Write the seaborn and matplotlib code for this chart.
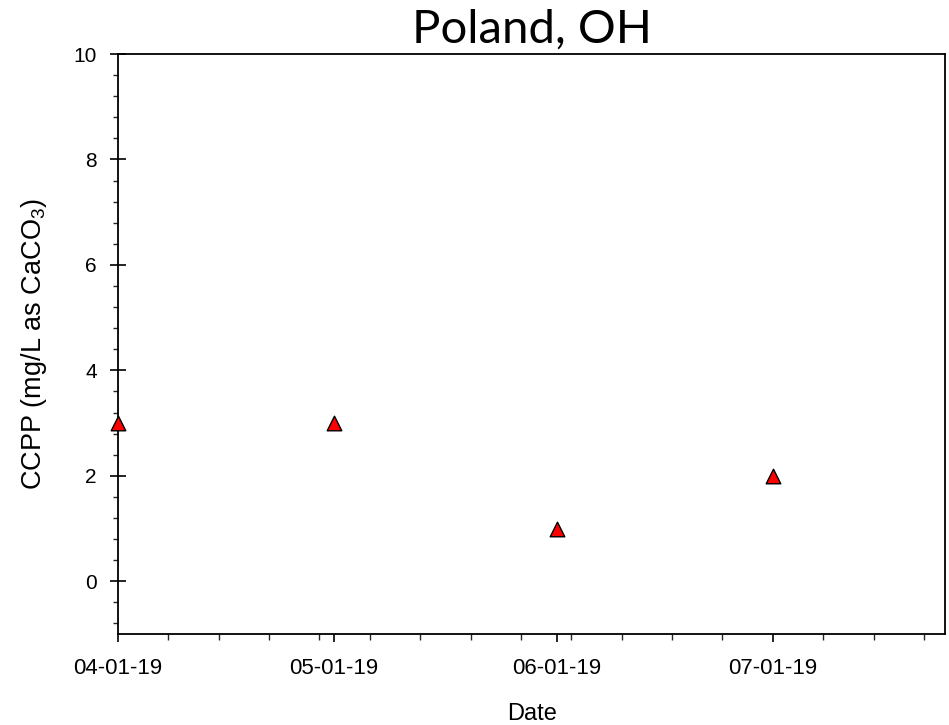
import numpy as np
import pandas as pd
import matplotlib
matplotlib.use("Agg")
import matplotlib.pyplot as plt
import matplotlib.dates as mdates
from matplotlib.ticker import MultipleLocator
import seaborn as sns

dates = ["2019-04-01", "2019-05-01", "2019-06-01", "2019-07-01"]
ccpp = [3.0, 3.0, 1.0, 2.0]
title = "Poland, OH"
xlabel = "Date"
ylabel = "CCPP (mg/L as CaCO$_3$)"

df = pd.DataFrame({"Date": pd.to_datetime(dates), "CCPP": ccpp})

sns.set_theme(style="white")
plt.rcParams["font.family"] = ["Liberation Sans", "DejaVu Sans"]
plt.rcParams["mathtext.fontset"] = "custom"
plt.rcParams["mathtext.rm"] = "Liberation Sans"
plt.rcParams["mathtext.it"] = "Liberation Sans"
plt.rcParams["mathtext.bf"] = "Liberation Sans"

fig = plt.figure(figsize=(9.49, 7.25), dpi=100)
ax = fig.add_axes([0.1243, 0.1255, 0.9963 - 0.1243, 0.9255 - 0.1255])

sns.scatterplot(data=df, x="Date", y="CCPP", ax=ax, marker="^", s=110,
                color="#ff0000", edgecolor="black", linewidth=1.0, zorder=5,
                clip_on=False, legend=False)

ax.set_xlim(pd.Timestamp("2019-04-01"), pd.Timestamp("2019-07-25"))
ax.set_ylim(-1, 10)

ax.xaxis.set_major_locator(mdates.MonthLocator())
ax.xaxis.set_major_formatter(mdates.DateFormatter("%m-%d-%y"))
ax.xaxis.set_minor_locator(mdates.WeekdayLocator(byweekday=mdates.MO))
ax.yaxis.set_major_locator(MultipleLocator(2))
ax.yaxis.set_minor_locator(MultipleLocator(0.4))

for side in ["left", "bottom", "top", "right"]:
    ax.spines[side].set_visible(True)
    ax.spines[side].set_color("black")
    ax.spines[side].set_linewidth(1.3)

ax.tick_params(axis="y", which="major", direction="inout", length=11.5, width=1.2,
               left=True, right=False, labelsize=15, pad=9.4, colors="black")
ax.tick_params(axis="y", which="minor", direction="out", length=3.6, width=1.0,
               left=True, right=False)
ax.tick_params(axis="x", which="major", direction="out", length=5.8, width=1.2,
               bottom=True, top=False, labelsize=16, pad=11.5, colors="black")
ax.tick_params(axis="x", which="minor", direction="out", length=4.0, width=1.0,
               bottom=True, top=False)

ax.set_xlabel(xlabel, fontsize=17, labelpad=17, color="black")
ax.set_ylabel(ylabel, fontsize=19.5, labelpad=18, color="black")
ax.set_title(title, fontsize=34, family=["Lato", "DejaVu Sans"], pad=8.5, color="black")
ax.grid(False)

fig.savefig("out.png", dpi=100)
